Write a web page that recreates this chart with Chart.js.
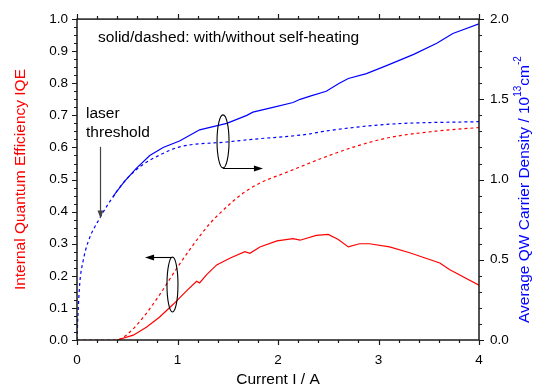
<!DOCTYPE html>
<html><head><meta charset="utf-8">
<script src="https://cdn.jsdelivr.net/npm/chart.js@4.4.0/dist/chart.umd.min.js"></script>
<style>html,body{margin:0;padding:0;background:#fff;overflow:hidden}</style>
</head><body>
<canvas id="c" width="537" height="389"></canvas>
<script>
// Current (A) and values
const densSH_I   = [0.36, 0.377, 0.475, 0.59, 0.724, 0.857, 1.02, 1.19, 1.22, 1.49, 1.69, 1.75, 1.95, 2.15, 2.22, 2.32, 2.48, 2.61, 2.70, 2.88, 3.08, 3.35, 3.58, 3.74, 4.0];
const densSH_N   = [0.89, 0.91, 0.99, 1.07, 1.15, 1.20, 1.24, 1.30, 1.31, 1.35, 1.40, 1.42, 1.45, 1.48, 1.50, 1.52, 1.55, 1.60, 1.63, 1.66, 1.71, 1.78, 1.85, 1.91, 1.97];
const densNoSH_I = [0, 0.01, 0.027, 0.06, 0.11, 0.227, 0.377, 0.475, 0.625, 0.824, 1.023, 1.488, 1.82, 2.116, 2.32, 2.45, 3.11, 4.0];
const densNoSH_N = [0, 0.16, 0.35, 0.49, 0.61, 0.76, 0.91, 0.99, 1.08, 1.153, 1.204, 1.234, 1.255, 1.27, 1.285, 1.30, 1.345, 1.361];
const iqeSH_I    = [0.4, 0.56, 0.69, 0.82, 0.96, 1.09, 1.19, 1.22, 1.29, 1.39, 1.52, 1.67, 1.72, 1.82, 1.99, 2.15, 2.22, 2.38, 2.5, 2.6, 2.7, 2.81, 2.91, 3.11, 3.31, 3.61, 3.71, 4.0];
const iqeSH_V    = [0, 0.015, 0.04, 0.071, 0.112, 0.153, 0.183, 0.178, 0.204, 0.234, 0.255, 0.275, 0.27, 0.29, 0.309, 0.316, 0.311, 0.326, 0.329, 0.313, 0.29, 0.30, 0.30, 0.29, 0.272, 0.24, 0.219, 0.171];
const iqeNoSH_I  = [0, 0.39, 0.49, 0.66, 0.82, 0.99, 1.16, 1.32, 1.49, 1.65, 1.82, 2.09, 2.45, 2.78, 3.11, 3.61, 4.0];
const iqeNoSH_V  = [0, 0, 0.015, 0.071, 0.14, 0.222, 0.298, 0.362, 0.415, 0.457, 0.489, 0.523, 0.568, 0.604, 0.631, 0.652, 0.662];

const xTickLabels  = ['0', '1', '2', '3', '4'];
const yTickLabels  = ['0.0','0.1','0.2','0.3','0.4','0.5','0.6','0.7','0.8','0.9','1.0'];
const y2TickLabels = ['0.0','0.5','1.0','1.5','2.0'];

const xTitle  = 'Current I / A';
const yTitle  = 'Internal Quantum Efficiency IQE';
const y2Title = ['Average QW Carrier Density / 10', '13', 'cm', '-2'];
const noteText = 'solid/dashed: with/without self-heating';
const laserText = ['laser', 'threshold'];

const FONT = "'Liberation Sans', Arial, sans-serif";
const RED = '#ff0000', BLUE = '#0000ff';

function pts(xs, ys) { return xs.map((x, i) => ({x: x, y: ys[i]})); }

function arrowHead(ctx, x, y, dir) {
  ctx.beginPath();
  if (dir === 'down') { ctx.moveTo(x, y); ctx.lineTo(x - 3, y - 8); ctx.lineTo(x + 3, y - 8); }
  if (dir === 'right') { ctx.moveTo(x, y); ctx.lineTo(x - 9, y - 3); ctx.lineTo(x - 9, y + 3); }
  if (dir === 'left') { ctx.moveTo(x, y); ctx.lineTo(x + 9, y - 3); ctx.lineTo(x + 9, y + 3); }
  ctx.closePath(); ctx.fill();
}

const decor = {
  id: 'decor',
  afterDraw(chart) {
    const ctx = chart.ctx;
    const {left, right, top, bottom} = chart.chartArea;
    const sx = chart.scales.x, sy = chart.scales.y, sy2 = chart.scales.y2;
    ctx.save();
    ctx.strokeStyle = '#1a1a1a';
    ctx.lineWidth = 1.5;
    ctx.strokeRect(left, top, right - left, bottom - top);
    ctx.lineWidth = 1.2;
    ctx.beginPath();
    for (let i = 0; i <= 20; i++) {
      const v = i * 0.2, px = Math.round(sx.getPixelForValue(v)) + 0.5;
      const len = (i % 5 === 0) ? 5 : 3;
      ctx.moveTo(px, bottom); ctx.lineTo(px, bottom + len);
      ctx.moveTo(px, top); ctx.lineTo(px, top - len);
    }
    for (let i = 0; i <= 40; i++) {
      const py = Math.round(sy.getPixelForValue(i * 0.025)) + 0.5;
      const len = (i % 4 === 0) ? 5 : 3;
      ctx.moveTo(left, py); ctx.lineTo(left - len, py);
    }
    for (let i = 0; i <= 20; i++) {
      const py = Math.round(sy2.getPixelForValue(i * 0.1)) + 0.5;
      const len = (i % 5 === 0) ? 5 : 3;
      ctx.moveTo(right, py); ctx.lineTo(right + len, py);
    }
    ctx.stroke();

    // right axis title with superscripts (reads bottom-to-top)
    ctx.fillStyle = BLUE;
    ctx.textBaseline = 'middle';
    ctx.textAlign = 'left';
    const big = '15.5px ' + FONT, small = '10px ' + FONT;
    ctx.font = big; const w0 = ctx.measureText(y2Title[0]).width, w2 = ctx.measureText(y2Title[2]).width;
    ctx.font = small; const w1 = ctx.measureText(y2Title[1]).width, w3 = ctx.measureText(y2Title[3]).width;
    const total = w0 + w1 + w2 + w3;
    ctx.save();
    ctx.translate(524.5, (top + bottom) / 2 + 10 + total / 2);
    ctx.rotate(-Math.PI / 2);
    let cx = 0;
    ctx.font = big; ctx.fillText(y2Title[0], cx, 0); cx += w0;
    ctx.font = small; ctx.fillText(y2Title[1], cx, -6); cx += w1;
    ctx.font = big; ctx.fillText(y2Title[2], cx, 0); cx += w2;
    ctx.font = small; ctx.fillText(y2Title[3], cx, -6);
    ctx.restore();

    // annotations
    ctx.fillStyle = '#000';
    ctx.font = '15.5px ' + FONT;
    ctx.textBaseline = 'alphabetic';
    ctx.fillText(noteText, sx.getPixelForValue(0.21), 41.5);
    ctx.fillText(laserText[0], sx.getPixelForValue(0.09), 118);
    ctx.fillText(laserText[1], sx.getPixelForValue(0.09), 137);

    // laser threshold arrow
    ctx.strokeStyle = '#444'; ctx.fillStyle = '#444'; ctx.lineWidth = 1.2;
    const ax = Math.round(sx.getPixelForValue(0.229)) + 0.5;
    const ay1 = sy.getPixelForValue(0.602), ay2 = sy.getPixelForValue(0.379);
    ctx.beginPath(); ctx.moveTo(ax, ay1); ctx.lineTo(ax, ay2 - 4); ctx.stroke();
    arrowHead(ctx, ax, ay2, 'down');

    // ellipse 1 -> right axis
    ctx.strokeStyle = '#000'; ctx.fillStyle = '#000'; ctx.lineWidth = 1.1;
    const e1x = sx.getPixelForValue(1.453), e1y = sy.getPixelForValue(0.619);
    ctx.beginPath(); ctx.ellipse(e1x, e1y, 6, 26.5, 0, 0, Math.PI * 2); ctx.stroke();
    const a1y = Math.round(e1y + 26.5) + 0.5, a1x2 = sx.getPixelForValue(1.85);
    ctx.beginPath(); ctx.moveTo(e1x, a1y); ctx.lineTo(a1x2 - 4, a1y); ctx.stroke();
    arrowHead(ctx, a1x2, a1y, 'right');

    // ellipse 2 -> left axis
    const e2x = sx.getPixelForValue(0.95), e2y = sy.getPixelForValue(0.173);
    ctx.beginPath(); ctx.ellipse(e2x, e2y, 5.5, 27.5, 0, 0, Math.PI * 2); ctx.stroke();
    const a2y = Math.round(e2y - 27.5) + 0.5, a2x2 = sx.getPixelForValue(0.677);
    ctx.beginPath(); ctx.moveTo(e2x, a2y); ctx.lineTo(a2x2 + 4, a2y); ctx.stroke();
    arrowHead(ctx, a2x2, a2y, 'left');
    ctx.restore();
  }
};

const tickFont = {family: FONT, size: 13.5};

new Chart(document.getElementById('c'), {
  type: 'line',
  data: {
    datasets: [
      {data: pts(iqeNoSH_I, iqeNoSH_V), yAxisID: 'y', borderColor: RED, borderWidth: 1.2, borderDash: [3, 3], pointRadius: 0, cubicInterpolationMode: 'monotone', fill: false},
      {data: pts(iqeSH_I, iqeSH_V), yAxisID: 'y', borderColor: RED, borderWidth: 1.2, pointRadius: 0, tension: 0, fill: false},
      {data: pts(densNoSH_I, densNoSH_N), yAxisID: 'y2', borderColor: BLUE, borderWidth: 1.2, borderDash: [3, 3], pointRadius: 0, cubicInterpolationMode: 'monotone', fill: false},
      {data: pts(densSH_I, densSH_N), yAxisID: 'y2', borderColor: BLUE, borderWidth: 1.2, pointRadius: 0, tension: 0, fill: false}
    ]
  },
  options: {
    responsive: false,
    animation: false,
    devicePixelRatio: 1,
    layout: {padding: {top: 13, left: 0, right: 0, bottom: 0}},
    plugins: {legend: {display: false}, tooltip: {enabled: false}},
    scales: {
      x: {
        type: 'linear', position: 'bottom', min: 0, max: 4,
        grid: {display: false, drawTicks: false}, border: {display: false},
        ticks: {stepSize: 1, padding: 12, color: '#000', font: tickFont, maxRotation: 0,
                callback: (v) => xTickLabels[Math.round(v)]},
        title: {display: true, text: xTitle, color: '#000', font: {family: FONT, size: 15.5}, padding: {top: 0, bottom: 0}},
        afterFit: (s) => { s.height = 49; }
      },
      y: {
        type: 'linear', position: 'left', min: 0, max: 1,
        grid: {display: false, drawTicks: false}, border: {display: false},
        ticks: {stepSize: 0.1, padding: 9, color: '#000', font: tickFont,
                callback: (v) => yTickLabels[Math.round(v * 10)]},
        title: {display: true, text: yTitle, color: RED, font: {family: FONT, size: 15.5}, padding: {top: 11.7, bottom: 0}},
        afterFit: (s) => { s.width = 77; }
      },
      y2: {
        type: 'linear', position: 'right', min: 0, max: 2,
        grid: {display: false, drawTicks: false}, border: {display: false},
        ticks: {stepSize: 0.5, padding: 11, color: '#000', font: tickFont,
                callback: (v) => y2TickLabels[Math.round(v * 2)]},
        afterFit: (s) => { s.width = 58; }
      }
    }
  },
  plugins: [decor]
});
</script>
</body></html>
